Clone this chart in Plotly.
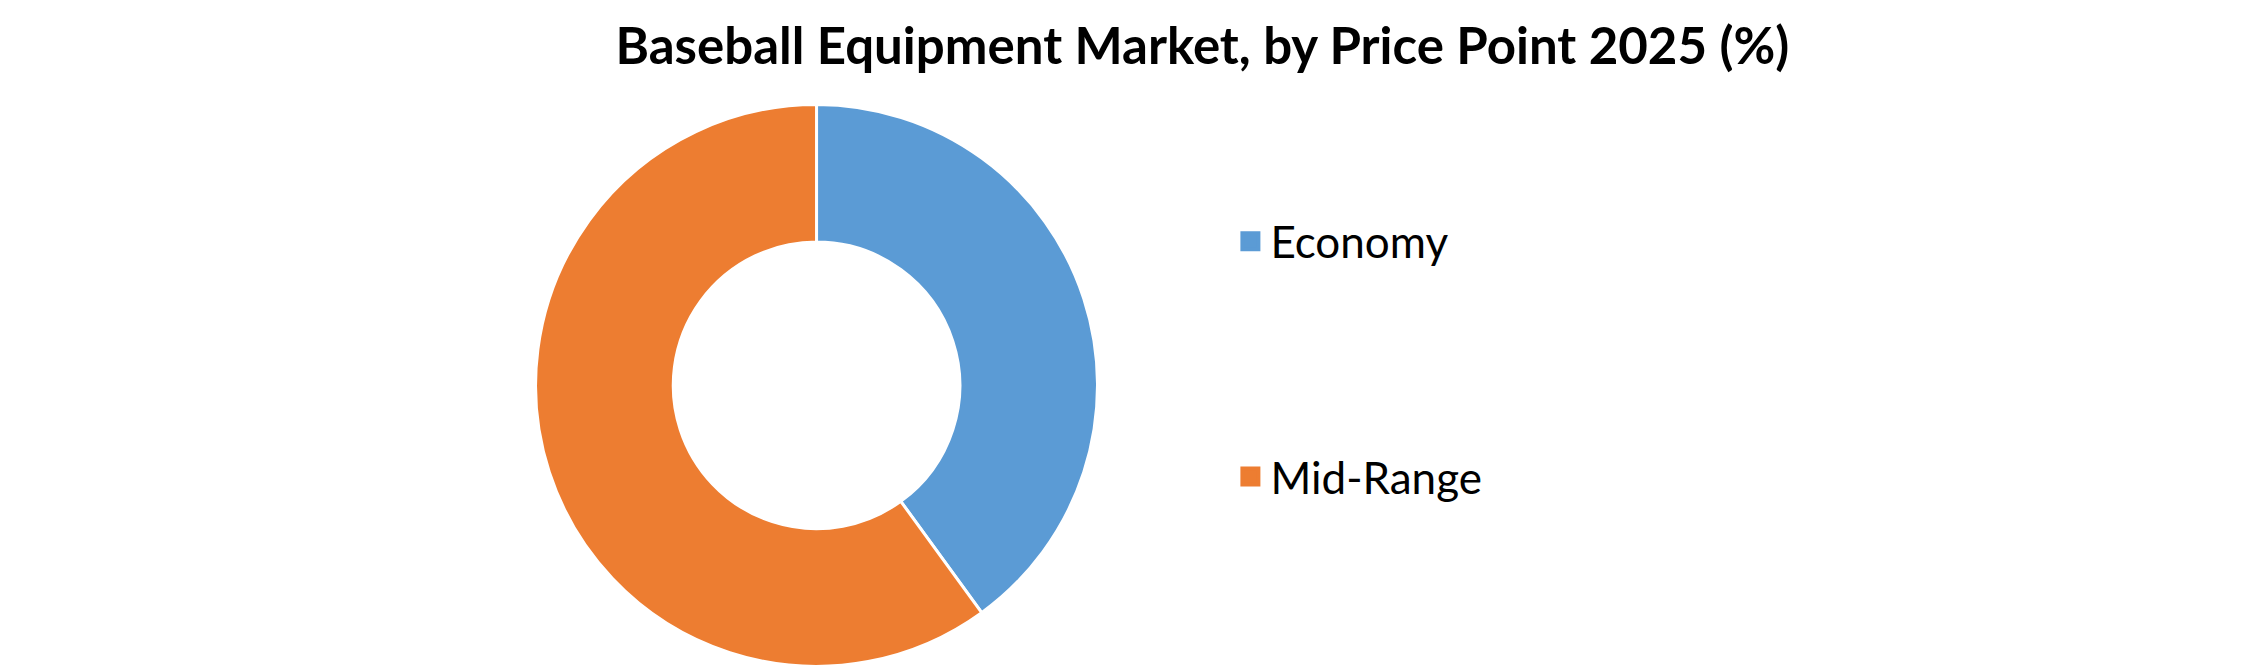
"""Donut chart: baseball equipment market share by price point, 2025."""
import plotly.graph_objects as go

categories = ['Economy', 'Mid-Range']
shares = [40, 60]
colors = ['#5B9BD5', '#ED7D31']
title_text = 'Baseball Equipment Market, by Price Point 2025 (%)'

donut = go.Pie(
    labels=categories,
    values=shares,
    hole=0.51,
    sort=False,
    direction='clockwise',
    rotation=0,
    marker=dict(colors=colors, line=dict(color='white', width=3)),
    textinfo='none',
    hoverinfo='label+percent',
    showlegend=False,
    domain=dict(x=[0.2350, 0.4853], y=[0.0129, 0.8555]),
)

# legend entries, kept apart with their own groups so the gap can be set
legend_keys = []
for name, col in zip(categories, colors):
    legend_keys.append(go.Scatter(
        x=[None], y=[None],
        mode='markers',
        marker=dict(symbol='square', size=20, color=col,
                    line=dict(color=col, width=4)),
        name=name,
        legendgroup=name,
        showlegend=True,
    ))

layout = go.Layout(
    width=2245,
    height=667,
    margin=dict(l=0, r=0, t=0, b=0),
    paper_bgcolor='white',
    plot_bgcolor='white',
    title=dict(
        text=f'<b>{title_text}</b>',
        font=dict(family='Lato', size=51, color='black'),
        x=0.532, xref='container', xanchor='center',
        y=0.943, yref='container', yanchor='middle',
    ),
    xaxis=dict(visible=False),
    yaxis=dict(visible=False),
    legend=dict(
        x=0.5445, xanchor='left',
        y=0.703, yanchor='top',
        font=dict(family='Lato', size=44, color='black'),
        tracegroupgap=175,
        itemsizing='trace',
        bgcolor='rgba(0,0,0,0)',
    ),
)

fig = go.Figure(data=[donut] + legend_keys, layout=layout)
fig.write_html('out.html')
